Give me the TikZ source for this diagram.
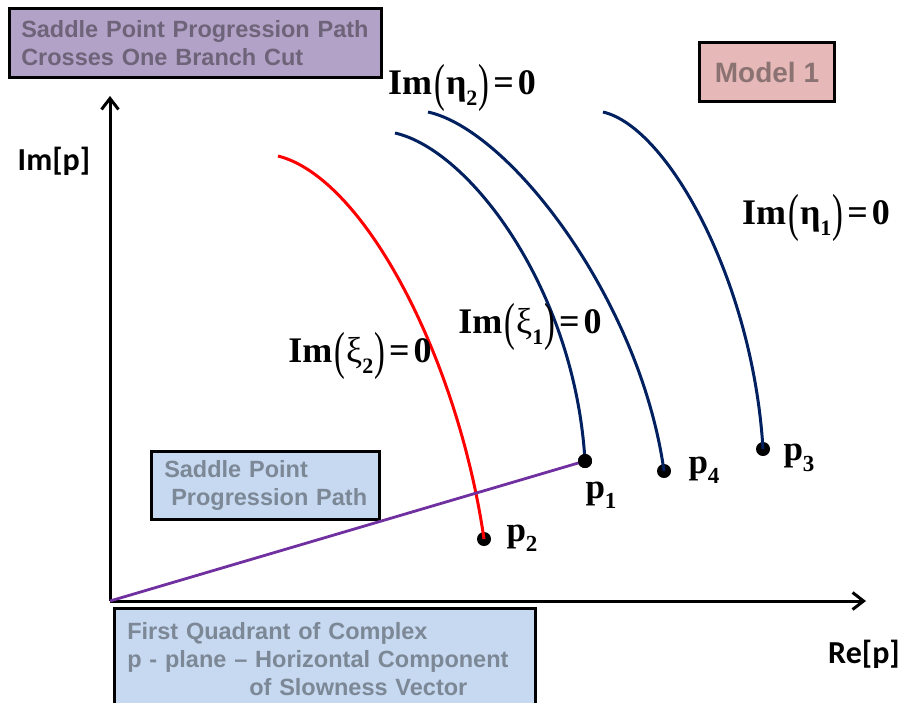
\documentclass[tikz,border=0pt]{standalone}
\usepackage{fontspec}
\setmainfont{Liberation Serif}
\setsansfont{Liberation Sans}
\newfontfamily\calfont{Carlito}
\usetikzlibrary{arrows.meta}
\definecolor{boxLilac}{HTML}{B3A2C7}
\definecolor{boxRose}{HTML}{E6B9B8}
\definecolor{boxSky}{HTML}{C6D9F1}
\definecolor{txtLilac}{HTML}{6E6479}
\definecolor{txtRose}{HTML}{8C7373}
\definecolor{txtSky}{HTML}{7D8896}
\definecolor{curveNavy}{HTML}{002060}
\definecolor{pathPurple}{HTML}{7030A0}
\newcommand{\bigpar}[1]{\raisebox{-0.17em}{\scalebox{0.9}[1.45]{\mdseries #1}}}
\newcommand{\imzero}[2]{\textbf{Im}\kern2pt\bigpar{(}\kern1pt#1\raisebox{-0.3em}{\fontsize{22}{22}\selectfont\bfseries #2}\kern1pt\bigpar{)}\kern4pt\textbf{=\kern4pt0}}
\newcommand{\pname}[1]{\textbf{p}\raisebox{-0.3em}{\fontsize{23}{23}\selectfont\bfseries #1}}

\begin{document}
\begin{tikzpicture}[x=1pt, y=-1pt,
  note/.style={draw=black, line width=2.5pt, inner xsep=12pt, inner ysep=0pt,
    anchor=north west, align=left, font=\sffamily\bfseries\fontsize{23.5}{28}\selectfont},
  axis/.style={line width=3pt, -{Straight Barb[length=11pt, width=17pt]}},
  curve/.style={line width=3pt, curveNavy},
  dot/.style={circle, fill=black, inner sep=0pt, minimum size=14pt},
  eqn/.style={font=\fontsize{36}{36}\selectfont},
  plabel/.style={font=\fontsize{35}{35}\selectfont},
  axlabel/.style={font=\calfont\bfseries\fontsize{32}{32}\selectfont}]

\useasboundingbox (0,0) rectangle (902,702);
\clip (0,0) rectangle (902,702);

% boxes
\node[note, fill=boxLilac, text=txtLilac, text width=348pt, minimum height=69pt] (cut) at (8,7)
  {Saddle Point Progression Path\\Crosses One Branch Cut};
\node[note, fill=boxRose, text=txtRose, anchor=center, align=center,
  minimum width=135pt, minimum height=59pt, font=\sffamily\bfseries\fontsize{28}{28}\selectfont]
  (model) at (767,72) {Model 1};
\node[note, fill=boxSky, text=txtSky, inner xsep=11pt, text width=206pt, minimum height=68pt] (spp) at (150,450)
  {\hspace*{2pt}Saddle Point\\\hspace*{9pt}Progression Path};
\node[note, fill=boxSky, text=txtSky, inner xsep=13pt, text width=395pt, minimum height=102pt] (quad) at (113,607)
  {First Quadrant of Complex\\p - plane -- Horizontal Component\\\hspace*{122pt}of Slowness Vector};

% axes
\coordinate (O) at (110,601);
\coordinate (ytop) at (110,96);
\coordinate (xend) at (866,601);
\draw[axis] (O) -- (ytop);
\draw[axis] (O) -- (xend);
\node[axlabel] (im) at (54,161) {Im[p]};
\node[axlabel] (re) at (864,654) {Re[p]};

% saddle points
\node[dot] (p1) at (585,461) {};
\node[dot] (p2) at (484,539) {};
\node[dot] (p3) at (763,449) {};
\node[dot] (p4) at (664,471) {};

% branch cuts
\coordinate (s2) at (278,156);
\coordinate (s1) at (395,133);
\coordinate (t2) at (428,112);
\coordinate (t1) at (603,112);
\draw[line width=3pt, red] (s2) .. controls (365,178) and (458,360) .. (p2.center);
\draw[curve] (s1) .. controls (470,150) and (575,290) .. (p1.center);
\draw[curve] (t2) .. controls (510,130) and (640,300) .. (p4.center);
\draw[curve] (t1) .. controls (668,127) and (753,282) .. (p3.center);

% progression path
\draw[line width=2.8pt, pathPurple] (O) -- (p1.center);
\node[dot] at (p1) {};

% labels
\node[eqn] (xi2) at (360,356) {\imzero{\mdseries ξ}{2}};
\node[eqn] (xi1) at (530,327) {\imzero{\mdseries ξ}{1}};
\node[eqn] (eta2) at (462,88) {\imzero{\bfseries η}{2}};
\node[eqn] (eta1) at (816,218) {\imzero{\bfseries η}{1}};
\node[plabel] (l1) at (601,495) {\pname{1}};
\node[plabel] (l2) at (522,538) {\pname{2}};
\node[plabel] (l3) at (799,458) {\pname{3}};
\node[plabel] (l4) at (704,470) {\pname{4}};
\end{tikzpicture}
\end{document}
